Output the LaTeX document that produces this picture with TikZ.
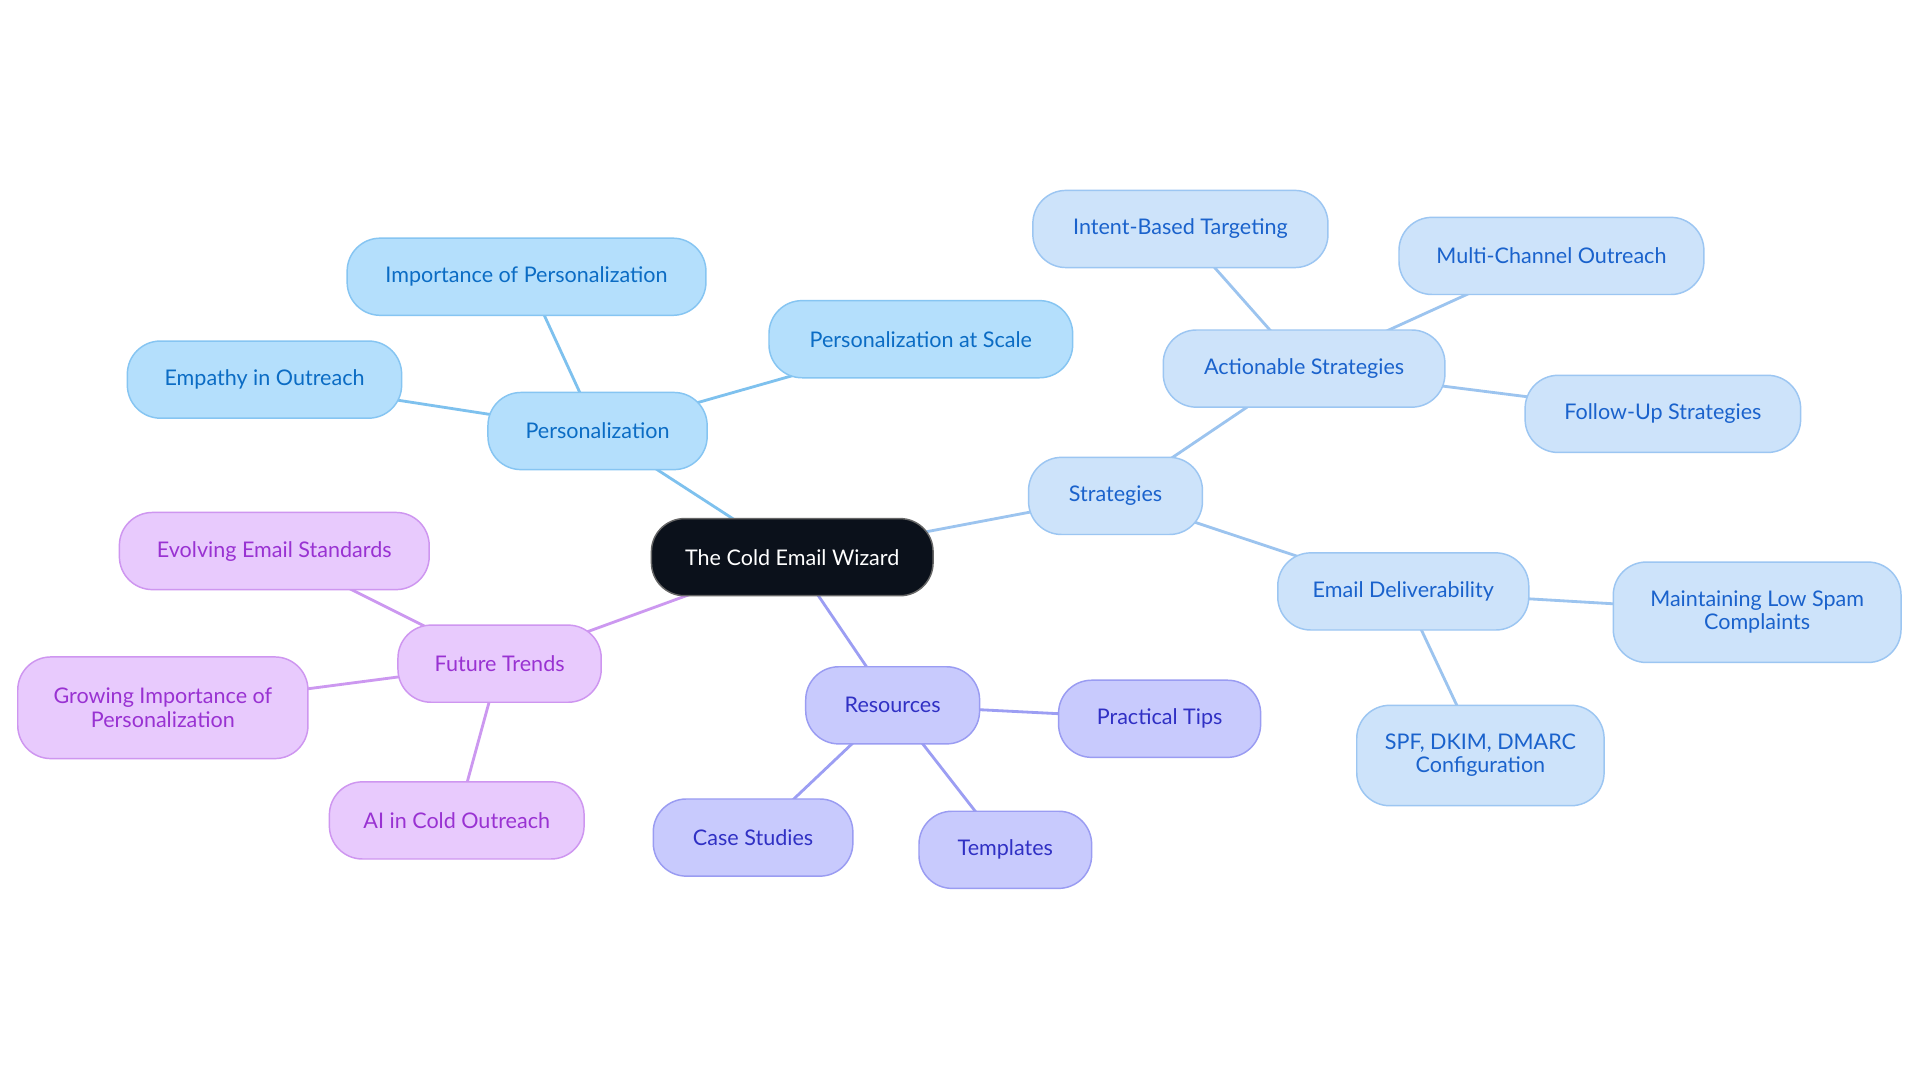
\documentclass[tikz,border=0pt]{standalone}
\usepackage{fontspec}
\setmainfont{Lato}
\usetikzlibrary{backgrounds}
\definecolor{pfill}{HTML}{B4DFFC}
\definecolor{pdraw}{HTML}{86C5F2}
\definecolor{ptext}{HTML}{0B6CC4}
\definecolor{pline}{HTML}{7EC1EE}
\definecolor{sfill}{HTML}{CDE3FA}
\definecolor{sdraw}{HTML}{9CC6F2}
\definecolor{stext}{HTML}{1A62CC}
\definecolor{sline}{HTML}{9CC4EF}
\definecolor{rfill}{HTML}{C8CAFD}
\definecolor{rdraw}{HTML}{9A9CF2}
\definecolor{rtext}{HTML}{3030C4}
\definecolor{rline}{HTML}{9C9EF3}
\definecolor{ffill}{HTML}{E8CAFD}
\definecolor{fdraw}{HTML}{CE96F0}
\definecolor{ftext}{HTML}{9932D2}
\definecolor{fline}{HTML}{CC98F0}
\definecolor{cfill}{HTML}{0B111B}
\tikzset{
  x=1pt,y=-1pt,
  box/.style={rounded corners=27pt, inner sep=0pt, align=center, line width=1.2pt,
    font=\fontsize{17.6}{19}\selectfont, minimum height=63pt},
  pbox/.style={box, fill=pfill, draw=pdraw, text=ptext},
  sbox/.style={box, fill=sfill, draw=sdraw, text=stext},
  rbox/.style={box, fill=rfill, draw=rdraw, text=rtext},
  fbox/.style={box, fill=ffill, draw=fdraw, text=ftext},
  cbox/.style={box, fill=cfill, draw=black!60, text=white},
  pl/.style={draw=pline, line width=2.3pt},
  sl/.style={draw=sline, line width=2.3pt},
  rl/.style={draw=rline, line width=2.3pt},
  fl/.style={draw=fline, line width=2.3pt},
}
\begin{document}
\begin{tikzpicture}
\useasboundingbox (0,0) rectangle (1568,884.4);
% center
\node[cbox, minimum width=230pt] (C) at (647,455) {The Cold Email Wizard};
% personalization
\node[pbox, minimum width=179pt] (P) at (488,352) {Personalization};
\node[pbox, minimum width=293pt] (P1) at (430,226) {Importance of Personalization};
\node[pbox, minimum width=224pt] (P2) at (216,310) {Empathy in Outreach};
\node[pbox, minimum width=248pt] (P3) at (752,277) {Personalization at Scale};
% strategies
\node[sbox, minimum width=142pt] (S) at (911,405) {Strategies};
\node[sbox, minimum width=230pt] (S1) at (1065,301) {Actionable Strategies};
\node[sbox, minimum width=241pt] (S1a) at (964,187) {Intent-Based Targeting};
\node[sbox, minimum width=249pt] (S1b) at (1267,209) {Multi-Channel Outreach};
\node[sbox, minimum width=225pt] (S1c) at (1358,338) {Follow-Up Strategies};
\node[sbox, minimum width=205pt] (S2) at (1146,483) {Email Deliverability};
\node[sbox, minimum width=235pt, minimum height=82pt] (S2a) at (1435,500) {Maintaining Low Spam\\Complaints};
\node[sbox, minimum width=202pt, minimum height=82pt] (S2b) at (1209,617) {SPF, DKIM, DMARC\\Configuration};
% resources
\node[rbox, minimum width=142pt] (R) at (729,576) {Resources};
\node[rbox, minimum width=165pt] (R1) at (947,587) {Practical Tips};
\node[rbox, minimum width=163pt] (R2) at (615,684) {Case Studies};
\node[rbox, minimum width=141pt] (R3) at (821,694) {Templates};
% future
\node[fbox, minimum width=166pt] (F) at (408,542) {Future Trends};
\node[fbox, minimum width=253pt] (F1) at (224,450) {Evolving Email Standards};
\node[fbox, minimum width=237pt, minimum height=83pt] (F2) at (133,578) {Growing Importance of\\Personalization};
\node[fbox, minimum width=208pt] (F3) at (373,670) {AI in Cold Outreach};
\begin{scope}[on background layer]
\fill[white] (0,0) rectangle (1568,884.4);
\draw[pl] (C.center) -- (P.center);
\draw[pl] (P.center) -- (P1.center);
\draw[pl] (P.center) -- (P2.center);
\draw[pl] (P.center) -- (P3.center);
\draw[sl] (C.center) -- (S.center);
\draw[sl] (S.center) -- (S1.center);
\draw[sl] (S1.center) -- (S1a.center);
\draw[sl] (S1.center) -- (S1b.center);
\draw[sl] (S1.center) -- (S1c.center);
\draw[sl] (S.center) -- (S2.center);
\draw[sl] (S2.center) -- (S2a.center);
\draw[sl] (S2.center) -- (S2b.center);
\draw[rl] (C.center) -- (R.center);
\draw[rl] (R.center) -- (R1.center);
\draw[rl] (R.center) -- (R2.center);
\draw[rl] (R.center) -- (R3.center);
\draw[fl] (C.center) -- (F.center);
\draw[fl] (F.center) -- (F1.center);
\draw[fl] (F.center) -- (F2.center);
\draw[fl] (F.center) -- (F3.center);
\end{scope}
\end{tikzpicture}
\end{document}
